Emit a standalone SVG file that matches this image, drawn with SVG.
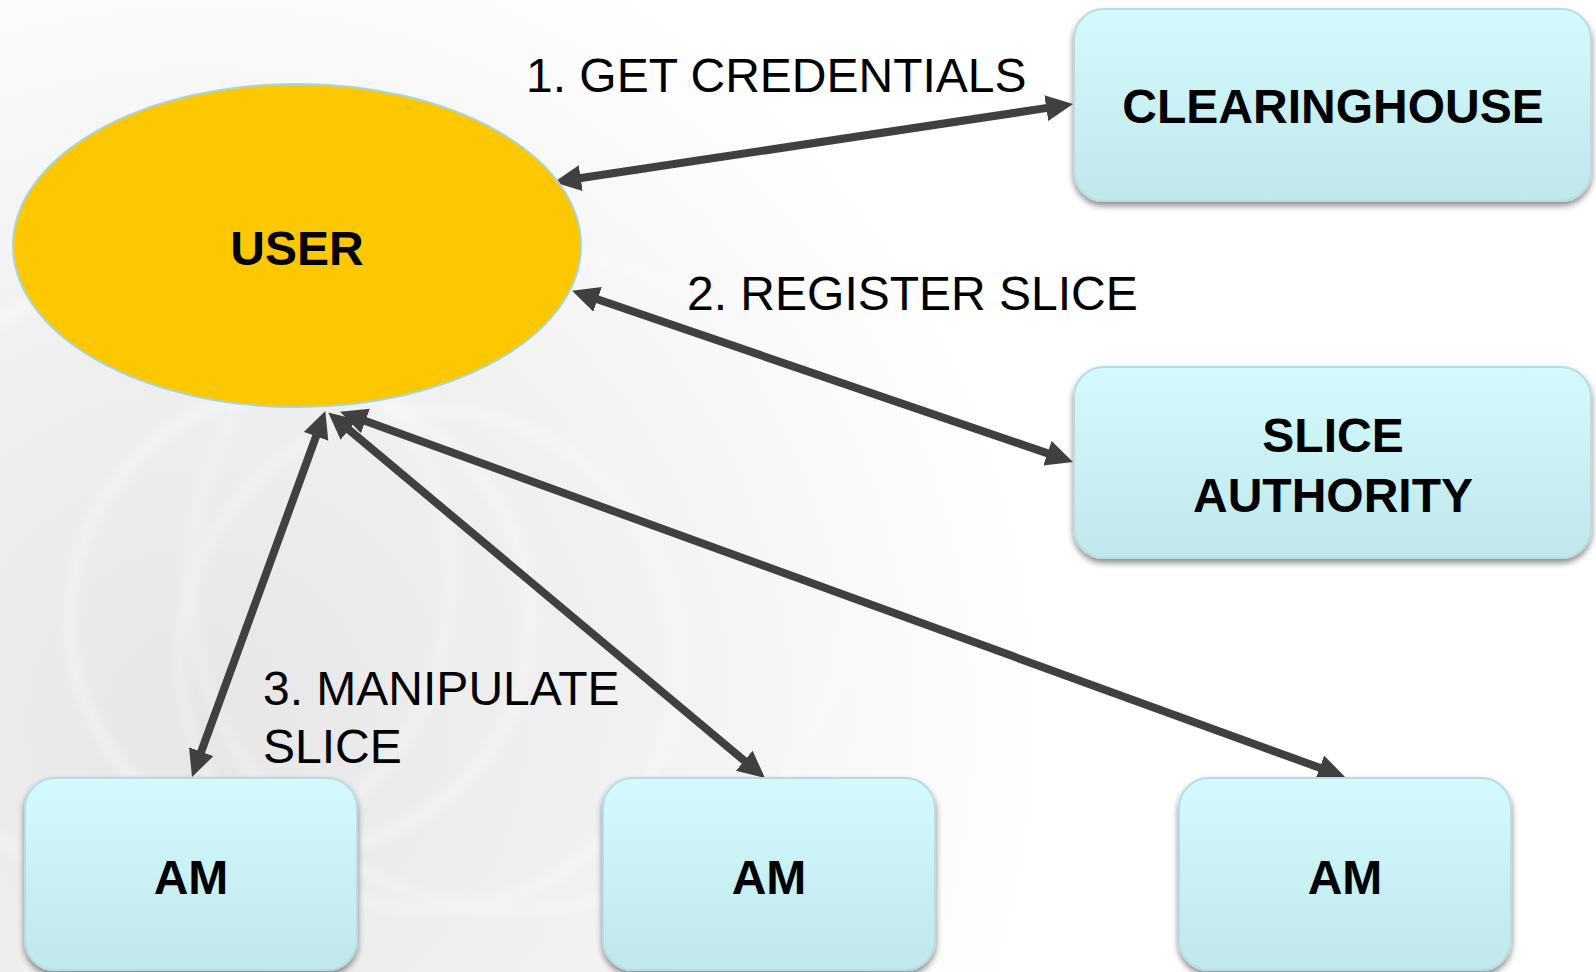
<svg xmlns="http://www.w3.org/2000/svg" width="1596" height="972" viewBox="0 0 1596 972">
  <defs>
    <style>
      .box { fill: url(#boxFill); stroke: #b7dde2; stroke-width: 2; filter: url(#shadow); }
      .node-label { font-family: "Liberation Sans", Arial, sans-serif; font-weight: bold; font-size: 48px; fill: #000; text-anchor: middle; }
      .edge-label { font-family: "Liberation Sans", Arial, sans-serif; font-size: 48px; fill: #000; }
      .link { stroke: #404040; stroke-width: 8; fill: none; marker-start: url(#head); marker-end: url(#head); }
      .ring { fill: none; stroke: #ffffff; filter: url(#soft); }
    </style>
    <linearGradient id="boxFill" x1="0" y1="0" x2="0" y2="1">
      <stop offset="0" stop-color="#d3fbfe"/>
      <stop offset="1" stop-color="#c0e7eb"/>
    </linearGradient>
    <radialGradient id="bg" cx="200" cy="720" r="850" gradientUnits="userSpaceOnUse">
      <stop offset="0" stop-color="#e6e6e6"/>
      <stop offset="0.5" stop-color="#f1f1f1"/>
      <stop offset="1" stop-color="#ffffff"/>
    </radialGradient>
    <filter id="shadow" x="-10%" y="-10%" width="120%" height="130%">
      <feGaussianBlur in="SourceAlpha" stdDeviation="3"/>
      <feOffset dx="0" dy="4" result="b"/>
      <feComponentTransfer><feFuncA type="linear" slope="0.45"/></feComponentTransfer>
      <feMerge><feMergeNode/><feMergeNode in="SourceGraphic"/></feMerge>
    </filter>
    <filter id="soft" x="-20%" y="-20%" width="140%" height="140%">
      <feGaussianBlur stdDeviation="6"/>
    </filter>
    <marker id="head" markerUnits="userSpaceOnUse" markerWidth="30" markerHeight="28" refX="8" refY="13" orient="auto-start-reverse">
      <path d="M0,0 L27,13 L0,26 z" fill="#404040"/>
    </marker>
  </defs>

  <!-- backdrop with soft swirl rings -->
  <rect width="1596" height="972" fill="url(#bg)"/>
  <g opacity="0.45">
    <circle class="ring" cx="300" cy="620" r="230" stroke-width="9"/>
    <circle class="ring" cx="430" cy="660" r="250" stroke-width="7"/>
    <circle class="ring" cx="150" cy="580" r="300" stroke-width="8"/>
    <circle class="ring" cx="520" cy="580" r="330" stroke-width="6"/>
  </g>

  <!-- connectors -->
  <g id="connectors">
    <line class="link" x1="572.8" y1="179.3" x2="1054.2" y2="106.9"/>
    <line class="link" x1="590.0" y1="296.8" x2="1055.0" y2="455.9"/>
    <line class="link" x1="318.8" y1="428.9" x2="198.5" y2="759.2"/>
    <line class="link" x1="342.8" y1="424.6" x2="750.4" y2="765.8"/>
    <line class="link" x1="357.9" y1="418.2" x2="1327.2" y2="770.5"/>
  </g>

  <!-- step labels -->
  <g id="labels">
    <text class="edge-label" x="526" y="92">1. GET CREDENTIALS</text>
    <text class="edge-label" x="687" y="310">2. REGISTER SLICE</text>
    <text class="edge-label" x="263" y="705">3. MANIPULATE</text>
    <text class="edge-label" x="263" y="763">SLICE</text>
  </g>

  <!-- nodes -->
  <g id="user">
    <ellipse cx="297" cy="245.5" rx="284" ry="161.5" fill="#fec800" stroke="#a8d4dc" stroke-width="2"/>
    <text class="node-label" x="297" y="265">USER</text>
  </g>
  <g id="clearinghouse">
    <rect class="box" x="1074" y="9" width="517" height="192" rx="30"/>
    <text class="node-label" x="1333" y="123">CLEARINGHOUSE</text>
  </g>
  <g id="slice-authority">
    <rect class="box" x="1074" y="367" width="517" height="191" rx="30"/>
    <text class="node-label" x="1333" y="452">SLICE</text>
    <text class="node-label" x="1333" y="512">AUTHORITY</text>
  </g>
  <g id="am-1">
    <rect class="box" x="25" y="778" width="332" height="192" rx="30"/>
    <text class="node-label" x="191" y="894">AM</text>
  </g>
  <g id="am-2">
    <rect class="box" x="603" y="778" width="332" height="192" rx="30"/>
    <text class="node-label" x="769" y="894">AM</text>
  </g>
  <g id="am-3">
    <rect class="box" x="1179" y="778" width="332" height="192" rx="30"/>
    <text class="node-label" x="1345" y="894">AM</text>
  </g>
</svg>
